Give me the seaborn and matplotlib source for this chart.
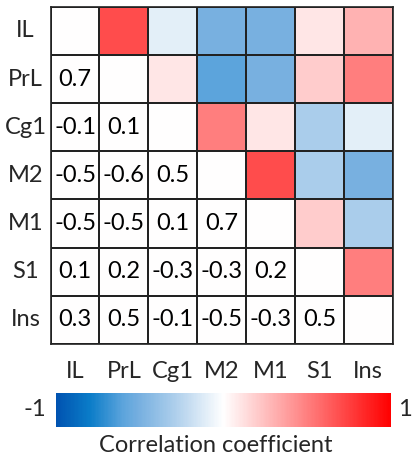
import numpy as np
import pandas as pd
import matplotlib
matplotlib.use("Agg")
import matplotlib.pyplot as plt
from matplotlib.colors import LinearSegmentedColormap
import seaborn as sns

regions = ["IL", "PrL", "Cg1", "M2", "M1", "S1", "Ins"]

# Lower-triangle correlation coefficients, row by row (row i has i entries)
r_PrL = [0.7]
r_Cg1 = [-0.1, 0.1]
r_M2 = [-0.5, -0.6, 0.5]
r_M1 = [-0.5, -0.5, 0.1, 0.7]
r_S1 = [0.1, 0.2, -0.3, -0.3, 0.2]
r_Ins = [0.3, 0.5, -0.1, -0.5, -0.3, 0.5]
lower_rows = [[], r_PrL, r_Cg1, r_M2, r_M1, r_S1, r_Ins]

n = len(regions)
corr = np.eye(n)
for i, row in enumerate(lower_rows):
    for j, v in enumerate(row):
        corr[i, j] = v
        corr[j, i] = v

# Colour only the upper triangle; lower triangle carries the numbers on white
color_vals = np.where(np.triu(np.ones((n, n), bool), k=1), corr, 0.0)
labels = np.full((n, n), "", dtype=object)
for i in range(n):
    for j in range(i):
        labels[i, j] = f"{corr[i, j]:.1f}"

color_df = pd.DataFrame(color_vals, index=regions, columns=regions)

cmap = LinearSegmentedColormap.from_list(
    "bwr_corr",
    [(0.0, "#0052b0"), (0.1, "#0a7cc8"), (0.2, "#5ca4dc"), (0.25, "#78b0e0"),
     (0.36, "#b0d0ec"), (0.5, "#ffffff"), (1.0, "#ff0000")],
)

sns.set_theme(style="white")
plt.rcParams["font.family"] = ["Lato", "DejaVu Sans"]

fig = plt.figure(figsize=(4.15, 4.58), dpi=100)
ax = fig.add_axes([0.122, 0.249, 0.824, 0.736])
cax = fig.add_axes([0.134, 0.068, 0.808, 0.073])

sns.heatmap(
    color_df, ax=ax, cmap=cmap, vmin=-1, vmax=1, center=0,
    annot=labels, fmt="", annot_kws={"fontsize": 17, "color": "black"},
    linewidths=1.2, linecolor="#222222", cbar=True, cbar_ax=cax,
    cbar_kws={"orientation": "horizontal"}, square=False,
)

for spine in ax.spines.values():
    spine.set_visible(True)
    spine.set_color("#222222")
    spine.set_linewidth(1.2)

ax.tick_params(axis="both", length=0)
ax.tick_params(axis="x", pad=12)
ax.tick_params(axis="y", pad=18)
ax.set_xticklabels(regions, rotation=0, fontsize=17)
ax.set_yticklabels(regions, rotation=0, fontsize=17, ha="center")
ax.set_xlabel("")
ax.set_ylabel("")

cbar = ax.collections[0].colorbar
cbar.outline.set_visible(False)
cax.set_xticks([])
cax.set_yticks([])
fig.text(0.085, 0.105, "-1", ha="center", va="center", fontsize=17)
fig.text(0.975, 0.105, "1", ha="center", va="center", fontsize=17)
fig.text(0.52, 0.028, "Correlation coefficient", ha="center", va="center", fontsize=17)

fig.savefig("out.png", dpi=100, facecolor="white")
